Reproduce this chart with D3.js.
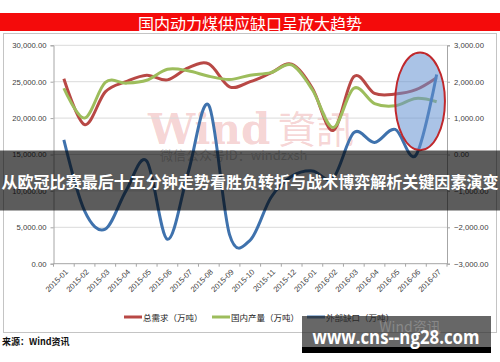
<!DOCTYPE html>
<html>
<head>
<meta charset="utf-8">
<script src="https://cdn.jsdelivr.net/npm/d3@7"></script>
<style>
  html, body { margin: 0; padding: 0; background: #fff; }
  svg { display: block; }
  text { font-family: "Liberation Sans", "Noto Sans CJK SC", sans-serif; }
</style>
</head>
<body>
<div id="chart"></div>
<script>
// months on the x axis
const months = ['2015-01','2015-02','2015-03','2015-04','2015-05','2015-06','2015-07','2015-08','2015-09','2015-10',
  '2015-11','2015-12','2016-01','2016-02','2016-03','2016-04','2016-05','2016-06','2016-07'];
// 总需求 (left axis)
const demand = [25400, 19100, 23600, 25000, 25900, 25250, 26900, 27450, 24300, 25000,
  26200, 27400, 24100, 18300, 25700, 23400, 23300, 23900, 25550];
// 国内产量 (left axis)
const production = [24100, 20000, 24900, 24800, 25200, 26700, 26500, 25750, 25300, 25900,
  26250, 27300, 23900, 18700, 24100, 22000, 21700, 22700, 22250];
// 外部缺口 (right axis)
const gap = [400, -1550, -2050, -1000, -180, -2330, -500, 1350, -2200, -2350,
  -1180, -600, -450, -650, 600, 330, 690, -20, 2200];

const leftTicks = [0, 5000, 10000, 15000, 20000, 25000, 30000];
const rightTicks = [-3000, -2000, -1000, 0, 1000, 2000, 3000];
const seriesNames = ['总需求（万吨）', '国内产量（万吨）', '外部缺口（万吨）'];
const seriesColors = ['#b84845', '#9dbd5c', '#3f72ad'];

const title = '国内动力煤供应缺口呈放大趋势';
const overlayTitle = '从欧冠比赛最后十五分钟走势看胜负转折与战术博弈解析关键因素演变';

const W = 500, H = 362;
const plotLeft = 53.5, plotRight = 447, plotTop = 45.3, plotBottom = 263.7;

const svg = d3.select('#chart').append('svg').attr('width', W).attr('height', H);

// outer frame
svg.append('rect')
  .attr('x', 3.5).attr('y', 33.5).attr('width', 493).attr('height', 299)
  .attr('fill', '#fff').attr('stroke', '#c4c4c4');

// red banner title
svg.append('rect').attr('x', 0).attr('y', 13).attr('width', W).attr('height', 18).attr('fill', '#f40b0b');
svg.append('text')
  .attr('x', 250).attr('y', 22.5)
  .attr('text-anchor', 'middle').attr('dominant-baseline', 'central')
  .style('font-family', '"Noto Sans CJK SC", sans-serif')
  .style('font-size', '16px').style('fill', '#fff')
  .text(title);

const x = d3.scaleBand().domain(months).range([plotLeft, plotRight]);
const cx = d => x(d) + x.bandwidth() / 2;
const yL = d3.scaleLinear().domain([0, 30000]).range([plotBottom, plotTop]);
const yR = d3.scaleLinear().domain([-3000, 3000]).range([plotBottom, plotTop]);

// watermark
const wm = svg.append('g');
wm.append('text')
  .attr('x', 148).attr('y', 144)
  .style('font-family', '"DejaVu Serif", serif').style('font-size', '42px').style('font-weight', 'bold')
  .style('fill', 'rgba(226,110,110,0.3)')
  .text('Wind');
wm.append('text')
  .attr('x', 278).attr('y', 143)
  .style('font-family', '"Noto Sans CJK TC", sans-serif').style('font-size', '38px')
  .style('fill', 'rgba(226,110,110,0.3)')
  .text('資訊');
wm.append('text')
  .attr('x', 160).attr('y', 160)
  .style('font-family', '"Noto Sans CJK SC", sans-serif').style('font-size', '13px')
  .style('fill', 'rgba(150,150,150,0.5)')
  .text('微信公众号ID：windzxsh');

// gridlines
svg.append('g').selectAll('line')
  .data(leftTicks.filter(d => d > 0))
  .enter().append('line')
  .attr('x1', plotLeft).attr('x2', plotRight)
  .attr('y1', d => yL(d)).attr('y2', d => yL(d))
  .style('stroke', '#dadada');

// left axis
const axL = svg.append('g').attr('transform', `translate(${plotLeft},0)`)
  .call(d3.axisLeft(yL).tickValues(leftTicks).tickSize(3).tickFormat(d3.format(',.2f')));
// right axis
const axR = svg.append('g').attr('transform', `translate(${plotRight},0)`)
  .call(d3.axisRight(yR).tickValues(rightTicks).tickSize(3).tickFormat(d3.format(',.2f')));
// bottom axis: ticks at band edges
const axB = svg.append('g').attr('transform', `translate(0,${plotBottom})`);
axB.append('line').attr('x1', plotLeft).attr('x2', plotRight).style('stroke', '#a6a6a6');
axB.selectAll('.tk')
  .data(months.concat(['end']))
  .enter().append('line')
  .attr('class', 'tk')
  .attr('x1', (d, i) => plotLeft + i * x.step()).attr('x2', (d, i) => plotLeft + i * x.step())
  .attr('y1', 0).attr('y2', 3)
  .style('stroke', '#a6a6a6');
axB.selectAll('.lbl')
  .data(months)
  .enter().append('text')
  .attr('class', 'lbl')
  .attr('transform', d => `translate(${cx(d) + 3},${7}) rotate(-45)`)
  .attr('text-anchor', 'end').attr('dominant-baseline', 'central')
  .style('font-size', '7.7px').style('fill', '#404040')
  .text(d => d);

[axL, axR].forEach(ax => {
  ax.select('.domain').style('stroke', '#a6a6a6');
  ax.selectAll('.tick line').style('stroke', '#a6a6a6');
  ax.selectAll('.tick text').style('font-size', '7.7px').style('fill', '#404040')
    .style('font-family', '"Liberation Sans", sans-serif');
});
axL.selectAll('.tick text').attr('x', -7);
axR.selectAll('.tick text').attr('x', 7);

// lines
const curve = d3.curveCardinal.tension(0);
const lineL = d3.line().x((d, i) => cx(months[i])).y(d => yL(d)).curve(curve);
const lineR = d3.line().x((d, i) => cx(months[i])).y(d => yR(d)).curve(curve);

svg.append('path').datum(demand).attr('d', lineL)
  .style('fill', 'none').style('stroke', seriesColors[0]).style('stroke-width', 3);
svg.append('path').datum(production).attr('d', lineL)
  .style('fill', 'none').style('stroke', seriesColors[1]).style('stroke-width', 3);
svg.append('path').datum(gap).attr('d', lineR)
  .style('fill', 'none').style('stroke', seriesColors[2]).style('stroke-width', 3);

// highlight ellipse around the last months
const hlLeft = cx('2016-05'), hlRight = x('2016-07') + x.bandwidth() * 0.9;
const hlTop = yR(2800), hlBottom = yR(120);
svg.append('ellipse')
  .attr('cx', (hlLeft + hlRight) / 2).attr('cy', (hlTop + hlBottom) / 2)
  .attr('rx', (hlRight - hlLeft) / 2).attr('ry', (hlBottom - hlTop) / 2)
  .style('fill', 'rgba(100,145,210,0.55)')
  .style('stroke', '#c0282c').style('stroke-width', 2);

// legend
const legendX = [124, 212, 307];
const legend = svg.append('g');
seriesNames.forEach((name, i) => {
  legend.append('line')
    .attr('x1', legendX[i]).attr('x2', legendX[i] + 18)
    .attr('y1', 317).attr('y2', 317)
    .style('stroke', seriesColors[i]).style('stroke-width', 3);
  legend.append('text')
    .attr('x', legendX[i] + 19).attr('y', 317)
    .attr('dominant-baseline', 'central')
    .style('font-family', '"Noto Sans CJK SC", sans-serif')
    .style('font-size', '8.5px').style('fill', '#222')
    .text(name);
});

// source
svg.append('text')
  .attr('x', 2).attr('y', 345)
  .style('font-family', '"Noto Sans CJK SC", sans-serif')
  .style('font-size', '9px').style('font-weight', 'bold').style('fill', '#111')
  .text('来源：Wind资讯');

// dark overlay banner
svg.append('rect').attr('x', 0).attr('y', 150.5).attr('width', W).attr('height', 60)
  .style('fill', 'rgba(0,0,0,0.64)');
svg.append('text')
  .attr('x', 250).attr('y', 181)
  .attr('text-anchor', 'middle').attr('dominant-baseline', 'central')
  .attr('textLength', 497).attr('lengthAdjust', 'spacingAndGlyphs')
  .style('font-family', '"Noto Sans CJK SC", sans-serif')
  .style('font-size', '16px').style('font-weight', 'bold').style('fill', '#fff')
  .text(overlayTitle);

// bottom-right site box
svg.append('rect').attr('x', 302).attr('y', 316).attr('width', 189).attr('height', 31)
  .style('fill', 'rgba(45,45,45,0.72)');
svg.append('rect').attr('x', 302).attr('y', 347).attr('width', 189).attr('height', 6)
  .style('fill', '#000');
svg.append('text')
  .attr('x', 410).attr('y', 326)
  .attr('text-anchor', 'middle').attr('dominant-baseline', 'central')
  .style('font-family', '"Noto Sans CJK SC", sans-serif')
  .style('font-size', '14px').style('fill', 'rgba(200,200,200,0.35)')
  .text('Wind资讯');
svg.append('text')
  .attr('x', 396).attr('y', 337)
  .attr('text-anchor', 'middle').attr('dominant-baseline', 'central')
  .attr('textLength', 167).attr('lengthAdjust', 'spacingAndGlyphs')
  .style('font-family', '"Open Sans", sans-serif')
  .style('font-size', '19px').style('font-weight', 'bold').style('fill', '#fff')
  .text('www.cns--ng28.com');
</script>
</body>
</html>
